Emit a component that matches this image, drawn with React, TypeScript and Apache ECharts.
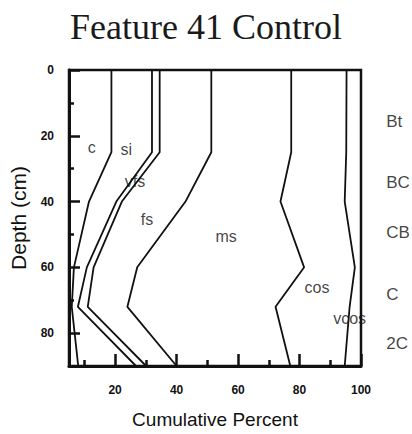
import React, { useEffect, useRef } from "react";
import * as echarts from "echarts";

const depths = [0, 25, 40, 60, 72, 90];
const clayPct = [18.8, 18.8, 11.5, 6.6, 5.9, 8.0];
const siltPct = [32.0, 32.0, 20.4, 10.8, 7.9, 26.8];
const vfsPct = [34.5, 34.5, 22.2, 13.0, 11.1, 30.1];
const fsPct = [51.3, 51.3, 42.9, 27.2, 24.0, 40.0];
const msPct = [77.3, 77.3, 73.8, 81.5, 72.2, 77.0];
const cosPct = [95.3, 95.2, 94.7, 98.0, 96.3, 94.7];

const textureLabels = ["c", "si", "vfs", "fs", "ms", "cos", "vcos"];
const labelPct = [12.4, 23.6, 26.5, 30.4, 56.1, 85.7, 96.3];
const labelDepth = [23.6, 24.2, 34, 45.5, 50.6, 66, 75.5];

const horizons = ["Bt", "BC", "CB", "C", "2C"];
const horizonDepth = [15.8, 34.2, 49.4, 68.2, 83.3];
const horizonPct = 108.2;

const xMajor = [20, 40, 60, 80, 100];
const xMinor = [10, 30, 50, 70, 90];
const yMajor = [0, 20, 40, 60, 80];
const yMinor = [10, 30, 50, 70];

const INK = "#111";
const SANS = "Liberation Sans, Arial, sans-serif";

export default function App() {
  const ref = useRef<HTMLDivElement>(null);
  useEffect(() => {
    if (!ref.current) return;
    const chart = echarts.init(ref.current, null, { renderer: "svg" });
    const boundaries = [clayPct, siltPct, vfsPct, fsPct, msPct, cosPct];
    const tickLabel = { color: INK, fontFamily: SANS, fontSize: 12, fontWeight: "bold" as const };
    chart.setOption({
      animation: false,
      backgroundColor: "#fff",
      title: {
        text: "Feature 41 Control",
        left: "center",
        top: 4,
        textStyle: { fontFamily: "Liberation Serif, Times New Roman, serif", fontSize: 36, fontWeight: "normal", color: "#1a1a1a" },
      },
      grid: { left: 65, right: 51, top: 70, bottom: 67, show: true, borderColor: INK, borderWidth: 2.5 },
      xAxis: [
        {
          type: "value", min: 5, max: 100, position: "bottom",
          name: "Cumulative Percent", nameLocation: "middle", nameGap: 44,
          nameTextStyle: { fontFamily: SANS, fontSize: 19, color: INK },
          axisLine: { show: true, onZero: false, lineStyle: { color: INK, width: 3 } },
          axisTick: { show: true, inside: true, length: 12, customValues: xMajor, lineStyle: { color: INK, width: 2.5 } },
          axisLabel: { customValues: xMajor, margin: 18, ...tickLabel },
          splitLine: { show: false },
        },
        {
          type: "value", min: 5, max: 100, position: "bottom",
          axisLine: { show: false, onZero: false },
          axisTick: { show: true, inside: true, length: 6, customValues: xMinor, lineStyle: { color: INK, width: 2.5 } },
          axisLabel: { show: false },
          splitLine: { show: false },
        },
      ],
      yAxis: [
        {
          type: "value", min: 0, max: 90, inverse: true, position: "left",
          name: "Depth (cm)", nameLocation: "middle", nameGap: 40,
          nameTextStyle: { fontFamily: SANS, fontSize: 21, color: INK },
          axisLine: { show: true, onZero: false, lineStyle: { color: INK, width: 3 } },
          axisTick: { show: true, inside: true, length: 11, customValues: yMajor, lineStyle: { color: INK, width: 2.5 } },
          axisLabel: { customValues: yMajor, margin: 15, ...tickLabel },
          splitLine: { show: false },
        },
        {
          type: "value", min: 0, max: 90, inverse: true, position: "left",
          axisLine: { show: false, onZero: false },
          axisTick: { show: true, inside: true, length: 5, customValues: yMinor, lineStyle: { color: INK, width: 2.5 } },
          axisLabel: { show: false },
          splitLine: { show: false },
        },
      ],
      series: [
        ...boundaries.map((pcts) => ({
          type: "line",
          xAxisIndex: 0,
          yAxisIndex: 0,
          showSymbol: false,
          symbol: "none",
          lineStyle: { color: INK, width: 1.8 },
          data: depths.map((d, i) => [pcts[i], d]),
        })),
        {
          type: "scatter",
          symbolSize: 0,
          xAxisIndex: 1,
          yAxisIndex: 1,
          silent: true,
          data: [[50, 45]],
        },
        {
          type: "scatter",
          symbolSize: 0,
          xAxisIndex: 0,
          yAxisIndex: 0,
          data: textureLabels.map((t, i) => ({ value: [labelPct[i], labelDepth[i]], name: t })),
          label: {
            show: true, position: "inside", formatter: "{b}",
            fontFamily: SANS, fontSize: 16, color: INK,
          },
        },
        {
          type: "scatter",
          symbolSize: 0,
          clip: false,
          xAxisIndex: 0,
          yAxisIndex: 0,
          data: horizons.map((t, i) => ({ value: [horizonPct, horizonDepth[i]], name: t })),
          label: {
            show: true, position: "inside", align: "left", formatter: "{b}",
            fontFamily: SANS, fontSize: 17, color: INK,
          },
        },
      ],
    });
    return () => chart.dispose();
  }, []);
  return <div ref={ref} style={{ position: "fixed", left: 0, top: 0, width: 412, height: 434 }} />;
}
